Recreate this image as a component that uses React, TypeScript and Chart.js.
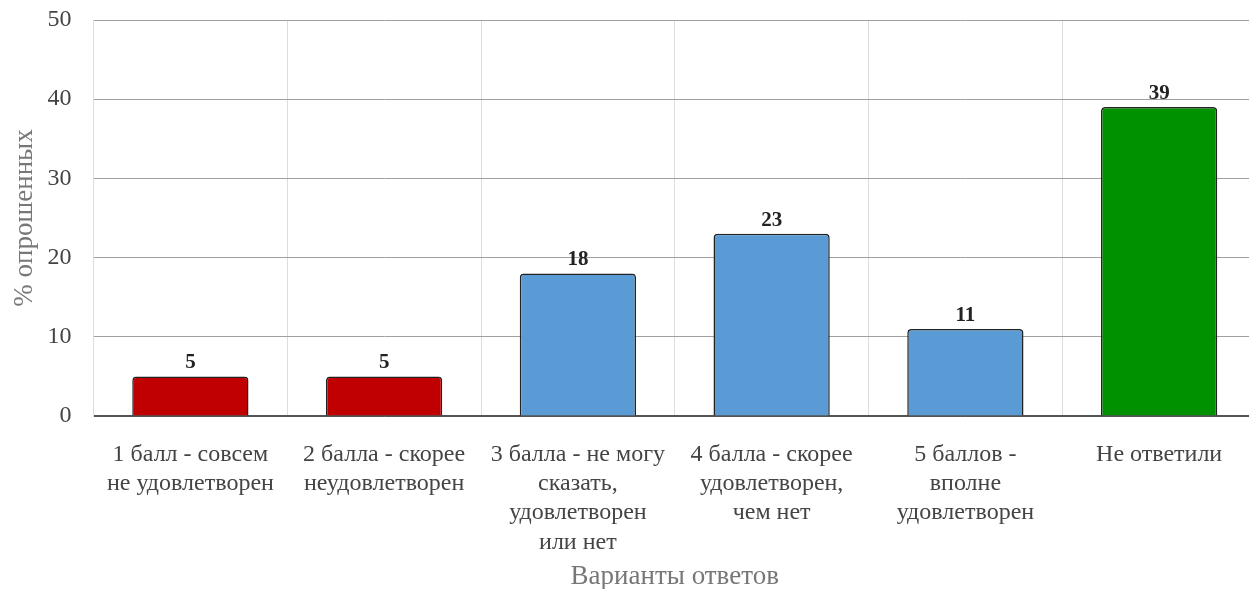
import React, { useEffect, useRef } from "react";
import { Chart, registerables } from "chart.js";

Chart.register(...registerables);

const categories: string[][] = [
  ["1 балл - совсем", "не удовлетворен"],
  ["2 балла - скорее", "неудовлетворен"],
  ["3 балла - не могу", "сказать,", "удовлетворен", "или нет"],
  ["4 балла - скорее", "удовлетворен,", "чем нет"],
  ["5 баллов -", "вполне", "удовлетворен"],
  ["Не ответили"],
];
const values: number[] = [5, 5, 18, 23, 11, 39];
const barColors: string[] = ["#c00000", "#c00000", "#5b9bd5", "#5b9bd5", "#5b9bd5", "#009100"];
const yTicks: number[] = [0, 10, 20, 30, 40, 50];
const yTitle = "% опрошенных";
const xTitle = "Варианты ответов";

const FONT = "'Liberation Serif', serif";

const labelPlugin = {
  id: "barLabels",
  afterDatasetsDraw(chart: any) {
    const ctx = chart.ctx;
    const meta = chart.getDatasetMeta(0);
    ctx.save();
    ctx.font = `bold 21px ${FONT}`;
    ctx.fillStyle = "#222";
    ctx.textAlign = "center";
    ctx.textBaseline = "alphabetic";
    meta.data.forEach((bar: any, i: number) => {
      ctx.fillText(String(values[i]), bar.x, bar.y - 8);
    });
    ctx.restore();
  },
};

export default function App() {
  const ref = useRef<HTMLCanvasElement>(null);
  useEffect(() => {
    document.body.style.margin = "0";
    document.body.style.overflow = "hidden";
    const chart = new Chart(ref.current!, {
      type: "bar",
      data: {
        labels: categories,
        datasets: [
          {
            data: values,
            backgroundColor: barColors,
            borderColor: "#222",
            borderWidth: 1.5,
            borderRadius: 4,
            borderSkipped: "bottom",
            categoryPercentage: 0.6,
            barPercentage: 1,
          },
        ],
      },
      options: {
        animation: false,
        responsive: false,
        layout: { padding: { top: 4, left: 0, right: 0, bottom: 0 } },
        plugins: { legend: { display: false }, tooltip: { enabled: false } },
        scales: {
          x: {
            grid: { color: "#dddddd", drawTicks: false, offset: true },
            border: { color: "#555555", width: 1.5 },
            ticks: { color: "#444", font: { family: FONT, size: 24, lineHeight: 1.22 }, padding: 24, maxRotation: 0, autoSkip: false },
            title: { display: true, text: xTitle, color: "#777", font: { family: FONT, size: 27, lineHeight: 1 }, padding: { top: 0, bottom: -1 } },
            afterFit: (s: any) => { s.height = 173; },
          },
          y: {
            min: 0,
            max: 50,
            afterBuildTicks: (s: any) => { s.ticks = yTicks.map((v) => ({ value: v })); },
            grid: { color: (c: any) => (c.tick && c.tick.value === 0 ? "#555555" : "#a0a0a0"), drawTicks: false },
            border: { color: "#dddddd", width: 1 },
            ticks: { color: "#444", font: { family: FONT, size: 24, lineHeight: 0.5 }, padding: 22 },
            title: { display: true, text: yTitle, color: "#777", font: { family: FONT, size: 27, lineHeight: 1 }, padding: { top: 11, bottom: 0 } },
            afterFit: (s: any) => { s.width = 93.5; },
          },
        },
      },
      plugins: [labelPlugin],
    });
    return () => chart.destroy();
  }, []);
  return <canvas ref={ref} width={1256} height={597} style={{ display: "block", marginTop: -8 }} />;
}
